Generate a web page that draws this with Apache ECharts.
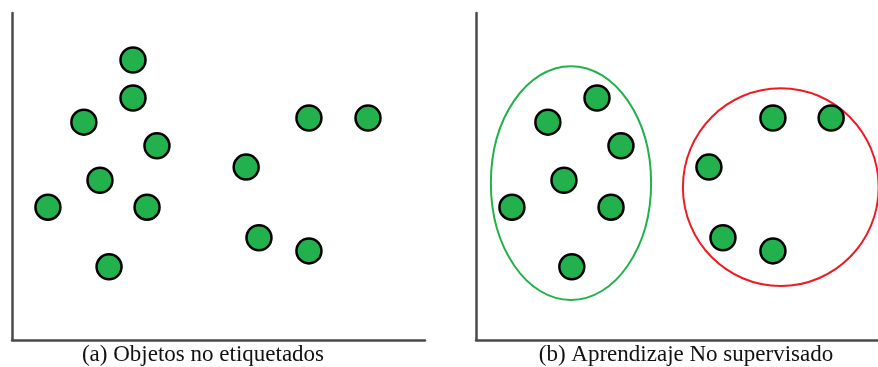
<!DOCTYPE html>
<html>
<head>
<meta charset="utf-8">
<script src="https://cdn.jsdelivr.net/npm/echarts@6/dist/echarts.min.js"></script>
<style>
  html, body { margin: 0; padding: 0; background: #fff; }
  #chart { width: 878px; height: 367px; }
</style>
</head>
<body>
<div id="chart"></div>
<script>
// Panel (a): unlabelled objects
const objectsX = [29.3, 29.3, 17.4, 35.1, 21.3, 8.7, 32.7, 23.5, 56.7, 71.9, 86.2, 59.8, 71.9];
const objectsY = [68.5, 59.2, 53.3, 47.5, 39.1, 32.5, 32.5, 17.9, 42.3, 54.3, 54.3, 25.0, 21.8];

// Panel (b): objects grouped by unsupervised learning
const groupedX = [29.3, 17.4, 35.1, 21.3, 8.7, 32.7, 23.2, 56.4, 71.9, 86.0, 59.8, 71.9];
const groupedY = [59.2, 53.3, 47.5, 39.1, 32.5, 32.5, 17.9, 42.3, 54.3, 54.3, 25.0, 21.8];

// Enclosing ellipse of each cluster: centre and radii
const clusterCx = [23.0, 73.8];
const clusterCy = [38.4, 37.4];
const clusterRx = [19.4, 23.7];
const clusterRy = [28.6, 24.2];
const clusterColor = ['#22b14c', '#ed1c24'];

// Panel captions
const captions = ['(a) Objetos no etiquetados', '(b) Aprendizaje No supervisado'];

const toPairs = (xs, ys) => xs.map((x, i) => [x, ys[i]]);
const clusters = clusterCx.map((cx, i) => [cx, clusterCy[i], clusterRx[i], clusterRy[i], i]);

const axisStyle = { show: true, lineStyle: { color: '#4a4a4a', width: 2.5 } };
const makeX = (gi, max) => ({
  gridIndex: gi, type: 'value', min: 0, max: max,
  axisLine: axisStyle, axisTick: { show: false }, axisLabel: { show: false }, splitLine: { show: false }
});
const makeY = (gi) => ({
  gridIndex: gi, type: 'value', min: 0, max: 80,
  axisLine: axisStyle, axisTick: { show: false }, axisLabel: { show: false }, splitLine: { show: false }
});

const dotStyle = { color: '#22b14c', borderColor: '#000', borderWidth: 2.5, opacity: 1 };
const captionStyle = { fontFamily: 'Liberation Serif', fontWeight: 'normal', fontSize: 23, color: '#111' };

const chart = echarts.init(document.getElementById('chart'), null, { renderer: 'canvas' });
chart.setOption({
  animation: false,
  backgroundColor: '#fff',
  title: [
    { text: captions[0], left: 203, top: 343, textAlign: 'center', padding: 0, textStyle: captionStyle },
    { text: captions[1], left: 686, top: 343, textAlign: 'center', padding: 0, textStyle: captionStyle }
  ],
  grid: [
    { left: 12, top: 13, width: 413, height: 327 },
    // second panel runs to the right edge of the canvas (same scale as the first)
    { left: 476, top: 13, width: 402, height: 327 }
  ],
  xAxis: [makeX(0, 100), makeX(1, 97.34)],
  yAxis: [makeY(0), makeY(1)],
  series: [
    {
      type: 'scatter', xAxisIndex: 0, yAxisIndex: 0,
      symbol: 'circle', symbolSize: 25, itemStyle: dotStyle,
      data: toPairs(objectsX, objectsY)
    },
    {
      type: 'custom', xAxisIndex: 1, yAxisIndex: 1, clip: false, silent: true,
      data: clusters,
      renderItem: function (params, api) {
        const c = api.coord([api.value(0), api.value(1)]);
        const s = api.size([api.value(2), api.value(3)]);
        return {
          type: 'ellipse',
          shape: { cx: c[0], cy: c[1], rx: s[0], ry: s[1] },
          style: { fill: 'none', stroke: clusterColor[api.value(4)], lineWidth: 2 }
        };
      },
      z: 1
    },
    {
      type: 'scatter', xAxisIndex: 1, yAxisIndex: 1,
      symbol: 'circle', symbolSize: 25, itemStyle: dotStyle,
      data: toPairs(groupedX, groupedY), z: 3
    }
  ]
});
</script>
</body>
</html>
